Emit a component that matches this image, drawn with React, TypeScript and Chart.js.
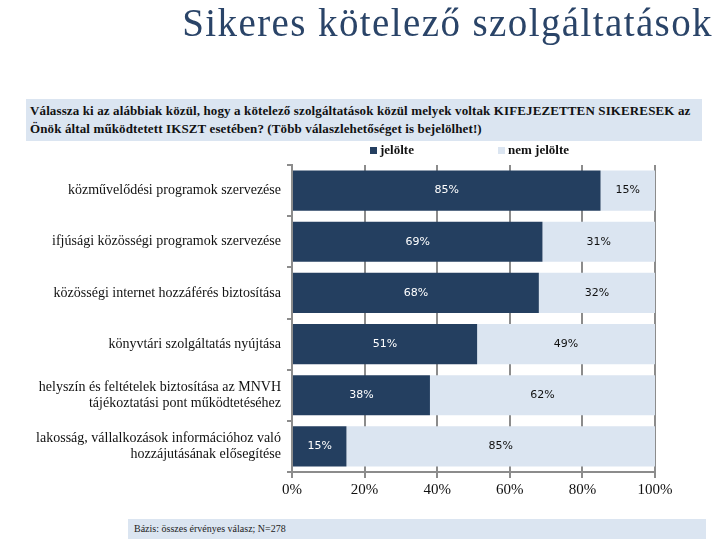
import React, { useEffect, useRef } from "react";
import { Chart, registerables } from "chart.js";

Chart.register(...registerables);

const categories: (string | string[])[] = [
  "közművelődési programok szervezése",
  "ifjúsági közösségi programok szervezése",
  "közösségi internet hozzáférés biztosítása",
  "könyvtári szolgáltatás nyújtása",
  ["helyszín és feltételek biztosítása az MNVH", "tájékoztatási pont működtetéséhez"],
  ["lakosság, vállalkozások információhoz való", "hozzájutásának elősegítése"],
];
const jeloltValues = [85, 69, 68, 51, 38, 15];
const nemJeloltValues = [15, 31, 32, 49, 62, 85];
const seriesNames = ["jelölte", "nem jelölte"];
const xTicks = [0, 20, 40, 60, 80, 100];

const DARK = "#243f60";
const LIGHT = "#dbe5f1";
const GRAY = "#8c8c8c";

const dataLabelPlugin = {
  id: "dataLabels",
  afterDatasetsDraw(chart: any) {
    const ctx = chart.ctx;
    ctx.save();
    ctx.font = "11px 'DejaVu Sans', Verdana, sans-serif";
    ctx.textAlign = "center";
    ctx.textBaseline = "middle";
    chart.data.datasets.forEach((ds: any, di: number) => {
      const meta = chart.getDatasetMeta(di);
      meta.data.forEach((el: any, i: number) => {
        const { x, y, base } = el.getProps(["x", "y", "base"], true);
        ctx.fillStyle = di === 0 ? "#ffffff" : "#111111";
        ctx.fillText(ds.data[i] + "%", (x + base) / 2, y);
      });
    });
    ctx.restore();
  },
};

export default function App() {
  const ref = useRef<HTMLCanvasElement | null>(null);
  useEffect(() => {
    if (!ref.current) return;
    const chart = new Chart(ref.current, {
      type: "bar",
      data: {
        labels: categories,
        datasets: [
          {
            label: seriesNames[0],
            data: jeloltValues,
            backgroundColor: DARK,
            borderWidth: 0,
            categoryPercentage: 0.8,
            barPercentage: 0.98,
          },
          {
            label: seriesNames[1],
            data: nemJeloltValues,
            backgroundColor: LIGHT,
            borderWidth: 0,
            categoryPercentage: 0.8,
            barPercentage: 0.98,
          },
        ],
      },
      options: {
        indexAxis: "y",
        responsive: false,
        animation: false,
        layout: { padding: { top: 165, right: 65, left: 0, bottom: 0 } },
        plugins: {
          legend: { display: false },
          tooltip: { enabled: false },
        },
        scales: {
          x: {
            stacked: true,
            min: 0,
            max: 100,
            afterBuildTicks: (scale: any) => {
              scale.ticks = xTicks.map((v) => ({ value: v }));
            },
            afterFit: (scale: any) => {
              scale.height = 68;
            },
            ticks: {
              callback: (v: any) => v + "%",
              color: "#111",
              padding: 3,
              font: { family: "'Liberation Serif', 'Times New Roman', serif", size: 15 },
            },
            grid: { color: GRAY, lineWidth: 2, tickLength: 6, tickColor: GRAY },
            border: { color: GRAY, width: 2 },
          },
          y: {
            stacked: true,
            afterFit: (scale: any) => {
              scale.width = 292;
            },
            ticks: {
              color: "#111",
              padding: 6,
              font: { family: "'Liberation Serif', 'Times New Roman', serif", size: 14, lineHeight: 1.15 },
            },
            grid: { drawOnChartArea: false, offset: true, tickLength: 5, tickColor: GRAY, lineWidth: 2 },
            border: { color: GRAY, width: 2 },
          },
        },
      },
      plugins: [dataLabelPlugin],
    });
    return () => chart.destroy();
  }, []);

  const serif = "'Liberation Serif', 'Times New Roman', serif";
  return (
    <div style={{ position: "fixed", left: 0, top: 0, width: 720, height: 540, background: "#fff", overflow: "hidden" }}>
      <canvas ref={ref} width={720} height={540} style={{ position: "absolute", left: 0, top: 0, width: 720, height: 540 }} />
      <div
        style={{
          position: "absolute",
          right: 7,
          top: 0,
          fontFamily: serif,
          fontSize: 39,
          letterSpacing: "1.4px",
          color: "#2a4468",
          whiteSpace: "nowrap",
        }}
      >
        Sikeres kötelező szolgáltatások
      </div>
      <div
        style={{
          position: "absolute",
          left: 26,
          top: 99,
          width: 676,
          height: 42,
          background: LIGHT,
          fontFamily: serif,
          fontWeight: "bold",
          fontSize: 13,
          letterSpacing: "0.12px",
          lineHeight: "18px",
          color: "#111",
          padding: "3px 0 0 4px",
          boxSizing: "border-box",
          whiteSpace: "nowrap",
        }}
      >
        Válassza ki az alábbiak közül, hogy a kötelező szolgáltatások közül melyek voltak KIFEJEZETTEN SIKERESEK az
        <br />
        Önök által működtetett IKSZT esetében? (Több válaszlehetőséget is bejelölhet!)
      </div>
      <div style={{ position: "absolute", left: 370, top: 142, fontFamily: serif, fontWeight: "bold", fontSize: 13, color: "#111", whiteSpace: "nowrap" }}>
        <span style={{ display: "inline-block", width: 7, height: 7, background: DARK, marginRight: 3 }} />
        {seriesNames[0]}
      </div>
      <div style={{ position: "absolute", left: 498, top: 142, fontFamily: serif, fontWeight: "bold", fontSize: 13, color: "#111", whiteSpace: "nowrap" }}>
        <span style={{ display: "inline-block", width: 7, height: 7, background: LIGHT, marginRight: 3 }} />
        {seriesNames[1]}
      </div>
      <div
        style={{
          position: "absolute",
          left: 128,
          top: 519,
          width: 578,
          height: 20,
          background: LIGHT,
          fontFamily: serif,
          fontSize: 10,
          lineHeight: "20px",
          color: "#222",
          paddingLeft: 6,
          boxSizing: "border-box",
          whiteSpace: "nowrap",
        }}
      >
        Bázis: összes érvényes válasz; N=278
      </div>
    </div>
  );
}
